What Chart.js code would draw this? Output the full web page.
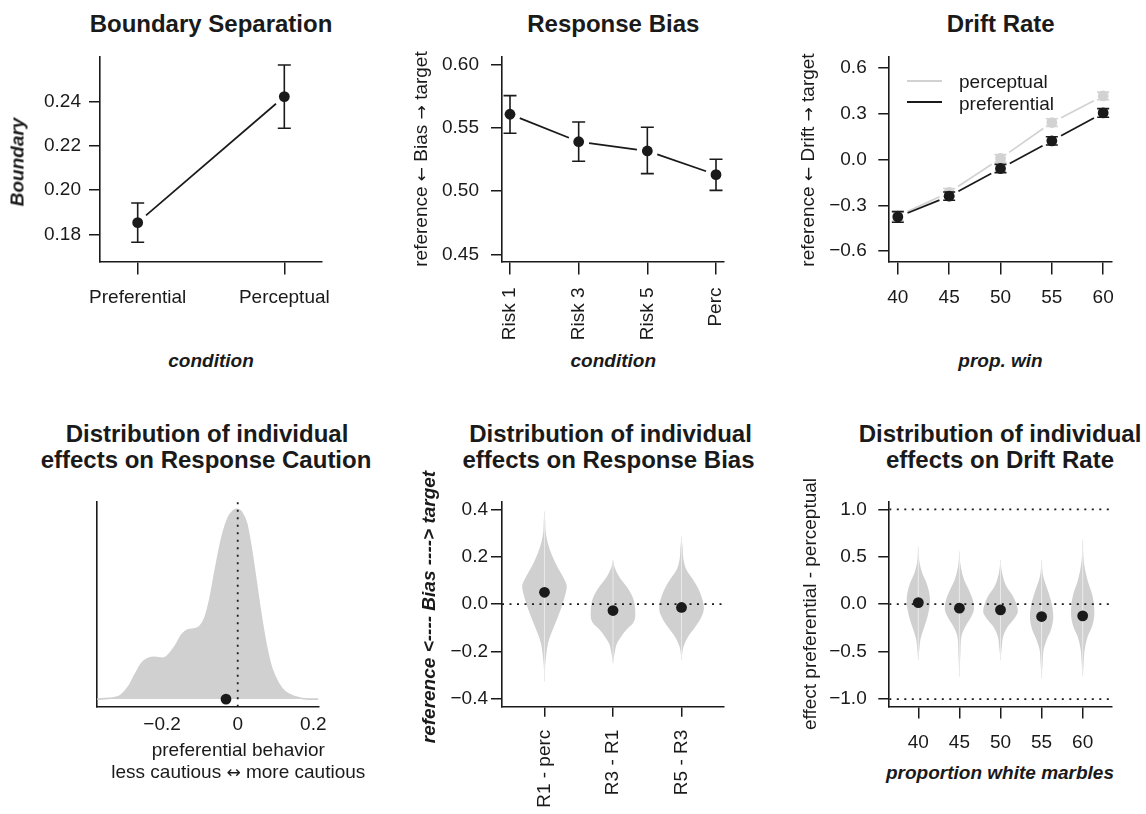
<!DOCTYPE html>
<html>
<head>
<meta charset="utf-8">
<script src="https://cdn.jsdelivr.net/npm/chart.js@4.4.1/dist/chart.umd.min.js"></script>
<style>
  body { margin: 0; background: #fff; }
  #page { position: relative; width: 1146px; height: 814px; overflow: hidden; background: #fff; }
  canvas { position: absolute; }
  .txt {
    position: absolute; transform: translate(-50%, -50%); white-space: nowrap; line-height: 1;
    font-family: 'Liberation Sans', Arial, Helvetica, sans-serif; font-size: 19px; color: #1a1a1a; z-index: 2;
  }
  .title { font-weight: bold; font-size: 24px; }
  .axt { font-weight: bold; font-style: italic; }
  .rot { transform: translate(-50%, -50%) rotate(-90deg); }
  .arw { font-family: 'DejaVu Sans', sans-serif; font-size: 17px; }
  .key { position: absolute; height: 2px; z-index: 2; }
</style>
</head>
<body>
<div id="page"></div>
<script>
// DATOS

// Boundary separation
const boundaryConditions = ['Preferential', 'Perceptual'];
const boundaryMean = [0.1853, 0.2423];
const boundaryLow = [0.1764, 0.2280];
const boundaryHigh = [0.1942, 0.2566];
const boundaryTicks = [0.18, 0.20, 0.22, 0.24];
const boundaryTickLabels = ['0.18', '0.20', '0.22', '0.24'];

// Response bias
const biasConditions = ['Risk 1', 'Risk 3', 'Risk 5', 'Perc'];
const biasMean = [0.5606, 0.5389, 0.5316, 0.5129];
const biasLow = [0.5456, 0.5235, 0.5137, 0.5005];
const biasHigh = [0.5753, 0.5545, 0.5503, 0.5250];
const biasTicks = [0.45, 0.50, 0.55, 0.60];
const biasTickLabels = ['0.45', '0.50', '0.55', '0.60'];

// Drift rate
const propWin = [40, 45, 50, 55, 60];
const driftPerceptual = [-0.370, -0.215, 0.007, 0.242, 0.416];
const driftPerceptualErr = [0.030, 0.025, 0.025, 0.025, 0.025];
const driftPreferential = [-0.376, -0.240, -0.059, 0.122, 0.305];
const driftPreferentialErr = [0.035, 0.027, 0.027, 0.027, 0.028];
const driftTicks = [-0.6, -0.3, 0, 0.3, 0.6];
const driftTickLabels = ['\u22120.6', '\u22120.3', '0.0', '0.3', '0.6'];

// Individual effects on response caution (density)
const cautionX = [-0.372, -0.342, -0.316, -0.289, -0.272, -0.254, -0.236, -0.219, -0.201, -0.188,
  -0.166, -0.148, -0.131, -0.113, -0.100, -0.087, -0.073, -0.060, -0.042, -0.025, -0.012, -0.003,
  0.011, 0.024, 0.037, 0.050, 0.063, 0.077, 0.090, 0.108, 0.125, 0.152, 0.187, 0.213];
const cautionDensity = [0, 0.004, 0.012, 0.065, 0.127, 0.189, 0.215, 0.220, 0.215, 0.224,
  0.277, 0.339, 0.365, 0.370, 0.383, 0.427, 0.533, 0.674, 0.850, 0.956, 0.991, 1.0,
  0.982, 0.921, 0.780, 0.603, 0.427, 0.268, 0.162, 0.083, 0.039, 0.012, 0, 0];
const cautionMean = -0.031;
const cautionTicks = [-0.2, 0, 0.2];
const cautionTickLabels = ['\u22120.2', '0', '0.2'];

// Individual effects on response bias (violins)
const biasContrasts = ['R1 - perc', 'R3 - R1', 'R5 - R3'];
const biasEffectMean = [0.050, -0.027, -0.014];
const biasViolinY = [
  [0.391, 0.356, 0.300, 0.257, 0.215, 0.159, 0.117, 0.075, 0.032, -0.024, -0.066, -0.122, -0.165, -0.221, -0.263, -0.326],
  [0.187, 0.159, 0.117, 0.075, 0.032, 0.004, -0.045, -0.080, -0.108, -0.136, -0.165, -0.207, -0.249],
  [0.285, 0.243, 0.187, 0.145, 0.103, 0.060, 0.018, -0.017, -0.052, -0.094, -0.136, -0.179, -0.235]
];
const biasViolinDensity = [
  [0, 0.03, 0.06, 0.15, 0.30, 0.57, 0.82, 1.0, 0.91, 0.72, 0.55, 0.31, 0.16, 0.07, 0.03, 0],
  [0, 0.06, 0.27, 0.60, 0.87, 0.96, 1.0, 0.90, 0.60, 0.37, 0.18, 0.07, 0],
  [0, 0.045, 0.09, 0.22, 0.52, 0.78, 0.94, 1.0, 0.90, 0.63, 0.30, 0.09, 0]
];
const biasEffectTicks = [-0.4, -0.2, 0, 0.2, 0.4];
const biasEffectTickLabels = ['\u22120.4', '\u22120.2', '0.0', '0.2', '0.4'];

// Individual effects on drift rate (violins)
const marbles = [40, 45, 50, 55, 60];
const driftEffectMean = [0.017, -0.042, -0.060, -0.130, -0.123];
const driftViolinY = [
  [0.608, 0.432, 0.327, 0.220, 0.116, 0.028, -0.060, -0.165, -0.270, -0.376, -0.480, -0.587],
  [0.556, 0.397, 0.257, 0.151, 0.046, -0.042, -0.130, -0.236, -0.340, -0.517, -0.763],
  [0.468, 0.327, 0.186, 0.081, -0.025, -0.077, -0.148, -0.236, -0.341, -0.447, -0.587],
  [0.468, 0.292, 0.151, 0.011, -0.130, -0.270, -0.376, -0.480, -0.620, -0.780],
  [0.679, 0.432, 0.257, 0.081, -0.095, -0.236, -0.341, -0.480, -0.620, -0.760]
];
const driftViolinDensity = [
  [0, 0.077, 0.23, 0.48, 0.635, 0.673, 0.615, 0.48, 0.29, 0.115, 0.058, 0],
  [0, 0.077, 0.27, 0.54, 0.77, 0.846, 0.69, 0.346, 0.115, 0.058, 0],
  [0, 0.096, 0.346, 0.73, 0.96, 1.0, 0.81, 0.42, 0.154, 0.077, 0],
  [0, 0.096, 0.346, 0.577, 0.673, 0.54, 0.29, 0.115, 0.058, 0],
  [0, 0.077, 0.27, 0.577, 0.673, 0.54, 0.29, 0.115, 0.058, 0]
];
const driftEffectTicks = [-1, -0.5, 0, 0.5, 1];
const driftEffectTickLabels = ['\u22121.0', '\u22120.5', '0.0', '0.5', '1.0'];
const driftRefLines = [1, 0, -1];

// ESTILO
const INK = '#1a1a1a';
const GREY = '#d2d2d2';
const VIOLIN = '#cfd0cf';
const DOT = 5.4;
Chart.defaults.font.family = "'Liberation Sans', Arial, Helvetica, sans-serif";
Chart.defaults.font.size = 19;
Chart.defaults.color = INK;
Chart.defaults.animation = false;
Chart.defaults.events = [];
Chart.defaults.plugins.legend.display = false;
Chart.defaults.plugins.tooltip.enabled = false;

const page = document.getElementById('page');

// barras de error y lineas tipo "b" de R (con hueco alrededor de cada punto)
const rPlot = {
  id: 'rPlot',
  beforeDatasetDraw(chart, args) {
    const ds = chart.data.datasets[args.index];
    if (!ds.gapLine && !ds.errLow) return;
    const ctx = chart.ctx;
    const pts = args.meta.data;
    const yScale = chart.scales.y;
    ctx.save();
    ctx.strokeStyle = ds.borderColor;
    ctx.lineCap = 'butt';
    if (ds.gapLine) {
      ctx.lineWidth = 1.7;
      for (let i = 0; i < pts.length - 1; i++) {
        const a = pts[i], b = pts[i + 1];
        const dx = b.x - a.x, dy = b.y - a.y, len = Math.hypot(dx, dy);
        if (len <= 2 * ds.gapLine) continue;
        const ux = dx / len, uy = dy / len;
        ctx.beginPath();
        ctx.moveTo(a.x + ux * ds.gapLine, a.y + uy * ds.gapLine);
        ctx.lineTo(b.x - ux * ds.gapLine, b.y - uy * ds.gapLine);
        ctx.stroke();
      }
    }
    if (ds.errLow) {
      ctx.lineWidth = 1.6;
      pts.forEach(function(p, i) {
        const lo = yScale.getPixelForValue(ds.errLow[i]);
        const hi = yScale.getPixelForValue(ds.errHigh[i]);
        const w = ds.capHalf;
        ctx.beginPath();
        ctx.moveTo(p.x, lo); ctx.lineTo(p.x, hi);
        ctx.moveTo(p.x - w, lo); ctx.lineTo(p.x + w, lo);
        ctx.moveTo(p.x - w, hi); ctx.lineTo(p.x + w, hi);
        ctx.stroke();
      });
    }
    ctx.restore();
  }
};

function eje(o) {
  const tickLen = o.tickLength || 0;
  return {
    type: 'linear',
    min: o.min,
    max: o.max,
    afterBuildTicks: function(s) { s.ticks = o.ticks.map(v => ({value: v})); },
    ticks: {
      display: !!o.labels,
      callback: function(v, i) { return o.labels ? o.labels[i] : ''; },
      padding: o.padding || 0,
      autoSkip: false,
      maxRotation: o.rotate || 0,
      minRotation: o.rotate || 0,
      color: INK,
      font: {size: 19}
    },
    grid: {display: tickLen > 0, drawOnChartArea: false, drawTicks: tickLen > 0, tickLength: tickLen, color: INK, lineWidth: 1.5},
    border: {display: true, color: INK, width: 1.6}
  };
}

function panel(area, yW, xH, config) {
  const left = Math.floor(area.L - yW), top = Math.floor(area.T - 12);
  const right = Math.ceil(area.R + 26), bottom = Math.min(814, Math.ceil(area.B + xH));
  const c = document.createElement('canvas');
  c.width = right - left; c.height = bottom - top;
  c.style.left = left + 'px'; c.style.top = top + 'px';
  c.style.width = (right - left) + 'px'; c.style.height = (bottom - top) + 'px';
  page.appendChild(c);
  const opts = config.options;
  opts.responsive = false;
  opts.devicePixelRatio = 1;
  opts.layout = {padding: {left: 0, top: area.T - top, right: right - area.R, bottom: 0}};
  opts.scales.x.afterFit = function(s) {
    s.height = bottom - area.B;
    s.paddingLeft = s.paddingRight = s.paddingTop = s.paddingBottom = 0;
  };
  opts.scales.y.afterFit = function(s) {
    s.width = area.L - left;
    s.paddingLeft = s.paddingRight = s.paddingTop = s.paddingBottom = 0;
  };
  return new Chart(c, config);
}

// texto real; las flechas van en DejaVu, que las dibuja largas como en R
function texto(str, x, y, cls) {
  const d = document.createElement('div');
  d.className = 'txt ' + (cls || '');
  str.split(/([\u2190-\u2194])/).forEach(function(parte) {
    if (!parte) return;
    if (/[\u2190-\u2194]/.test(parte)) {
      const s = document.createElement('span');
      s.className = 'arw';
      s.textContent = parte;
      d.appendChild(s);
    } else {
      d.appendChild(document.createTextNode(parte));
    }
  });
  d.style.left = x + 'px';
  d.style.top = y + 'px';
  page.appendChild(d);
}

function puntos(xs, ys, color, extra) {
  return Object.assign({
    data: ys.map((v, i) => ({x: xs[i], y: v})),
    showLine: false, fill: false,
    pointRadius: DOT, pointBackgroundColor: color, pointBorderWidth: 0,
    borderColor: color, backgroundColor: color
  }, extra || {});
}

function punteada(points) {
  return {
    data: points, fill: false, borderColor: INK, borderWidth: 1.8,
    borderDash: [2, 5.5], borderCapStyle: 'butt', pointRadius: 0, order: 2
  };
}

function violines(centers, ys, dens, halfWidth) {
  const sets = [];
  centers.forEach(function(c, i) {
    const yv = ys[i].slice().reverse();
    const dv = dens[i].slice().reverse();
    [-1, 1].forEach(function(side) {
      sets.push({
        data: yv.map((y, j) => ({x: c + side * dv[j] * halfWidth, y: y})),
        fill: {value: c}, backgroundColor: VIOLIN, borderColor: 'rgba(0,0,0,0)', borderWidth: 0,
        pointRadius: 0, cubicInterpolationMode: 'monotone', order: 4
      });
    });
    sets.push({
      data: [{x: c, y: yv[0]}, {x: c, y: yv[yv.length - 1]}],
      fill: false, borderColor: '#e9e9e9', borderWidth: 1, pointRadius: 0, order: 3
    });
  });
  return sets;
}

const idx = arr => arr.map((_, i) => i + 1);

// 1. Boundary Separation
panel({L: 100, T: 57, R: 322, B: 262}, 75, 60, {
  type: 'scatter',
  data: {datasets: [puntos(idx(boundaryConditions), boundaryMean, INK,
    {errLow: boundaryLow, errHigh: boundaryHigh, capHalf: 6.5, gapLine: 11})]},
  options: {scales: {
    x: eje({min: 0.743, max: 2.257, ticks: idx(boundaryConditions), labels: boundaryConditions, tickLength: 12.5, padding: 12}),
    y: eje({min: 0.1675, max: 0.2602, ticks: boundaryTicks, labels: boundaryTickLabels, tickLength: 11, padding: 8})
  }},
  plugins: [rPlot]
});

// 2. Response Bias
panel({L: 502, T: 57, R: 724, B: 262}, 75, 85, {
  type: 'scatter',
  data: {datasets: [puntos(idx(biasConditions), biasMean, INK,
    {errLow: biasLow, errHigh: biasHigh, capHalf: 6.5, gapLine: 10.5})]},
  options: {scales: {
    x: eje({min: 0.8835, max: 4.1165, ticks: idx(biasConditions), labels: biasConditions, tickLength: 12.5, padding: 13, rotate: 90}),
    y: eje({min: 0.4439, max: 0.6058, ticks: biasTicks, labels: biasTickLabels, tickLength: 11, padding: 12})
  }},
  plugins: [rPlot]
});

// 3. Drift Rate
panel({L: 889.3, T: 57, R: 1111.7, B: 262}, 75, 60, {
  type: 'scatter',
  data: {datasets: [
    puntos(propWin, driftPreferential, INK, {
      errLow: driftPreferential.map((v, i) => v - driftPreferentialErr[i]),
      errHigh: driftPreferential.map((v, i) => v + driftPreferentialErr[i]),
      capHalf: 6, gapLine: 10.5, order: 0}),
    puntos(propWin, driftPerceptual, GREY, {
      errLow: driftPerceptual.map((v, i) => v - driftPerceptualErr[i]),
      errHigh: driftPerceptual.map((v, i) => v + driftPerceptualErr[i]),
      capHalf: 6, gapLine: 10.5, order: 1})
  ]},
  options: {scales: {
    x: eje({min: 39.17, max: 60.83, ticks: propWin, labels: propWin.map(String), tickLength: 12.5, padding: 12}),
    y: eje({min: -0.671, max: 0.671, ticks: driftTicks, labels: driftTickLabels, tickLength: 11, padding: 11.6})
  }},
  plugins: [rPlot]
});

// 4. Distribution of individual effects on Response Caution
const cautionXMin = -0.373, cautionXMax = 0.215, cautionYMin = -0.04, cautionYMax = 1.04;
panel({L: 96.7, T: 501.7, R: 319, B: 706.7}, 20, 35, {
  type: 'line',
  data: {datasets: [
    puntos([cautionMean], [0], INK, {order: 0}),
    punteada([{x: 0, y: cautionYMin}, {x: 0, y: cautionYMax}]),
    {
      data: cautionX.map((x, i) => ({x: x, y: cautionDensity[i]})),
      fill: 'origin', backgroundColor: VIOLIN, borderColor: VIOLIN, borderWidth: 1.6,
      pointRadius: 0, cubicInterpolationMode: 'monotone', order: 4
    }
  ]},
  options: {scales: {
    x: eje({min: cautionXMin, max: cautionXMax, ticks: cautionTicks, labels: cautionTickLabels, tickLength: 0, padding: 7}),
    y: eje({min: cautionYMin, max: cautionYMax, ticks: [], labels: null, tickLength: 0})
  }}
});

// 5. Distribution of individual effects on Response Bias
const biasXMin = 0.38, biasXMax = 3.62;
panel({L: 502, T: 501.7, R: 724, B: 706.7}, 75, 108, {
  type: 'line',
  data: {datasets: [
    puntos(idx(biasContrasts), biasEffectMean, INK, {order: 0}),
    punteada([{x: biasXMin, y: 0}, {x: biasXMax, y: 0}])
  ].concat(violines(idx(biasContrasts), biasViolinY, biasViolinDensity, 0.326))},
  options: {
    indexAxis: 'y',
    scales: {
      x: eje({min: biasXMin, max: biasXMax, ticks: idx(biasContrasts), labels: biasContrasts, tickLength: 10, padding: 13, rotate: 90}),
      y: eje({min: -0.4325, max: 0.432, ticks: biasEffectTicks, labels: biasEffectTickLabels, tickLength: 11, padding: 3})
    }
  }
});

// 6. Distribution of individual effects on Drift Rate
const driftXMin = 36.47, driftXMax = 63.53;
panel({L: 889.3, T: 501.7, R: 1111.7, B: 706.7}, 75, 50, {
  type: 'line',
  data: {datasets: [puntos(marbles, driftEffectMean, INK, {order: 0})]
    .concat(driftRefLines.map(v => punteada([{x: driftXMin, y: v}, {x: driftXMax, y: v}])))
    .concat(violines(marbles, driftViolinY, driftViolinDensity, 2.11))},
  options: {
    indexAxis: 'y',
    scales: {
      x: eje({min: driftXMin, max: driftXMax, ticks: marbles, labels: marbles.map(String), tickLength: 11.7, padding: 12.5}),
      y: eje({min: -1.08, max: 1.08, ticks: driftEffectTicks, labels: driftEffectTickLabels, tickLength: 11, padding: 11.6})
    }
  }
});

// TEXTOS
texto('Boundary Separation', 211, 23.5, 'title');
texto('Response Bias', 613.3, 23.5, 'title');
texto('Drift Rate', 1000.7, 23.5, 'title');
texto('Distribution of individual', 207, 433.5, 'title');
texto('effects on Response Caution', 206, 459.5, 'title');
texto('Distribution of individual', 610.5, 433.5, 'title');
texto('effects on Response Bias', 608.5, 459.5, 'title');
texto('Distribution of individual', 1000, 433.5, 'title');
texto('effects on Drift Rate', 1000, 459.5, 'title');

texto('condition', 211, 360, 'axt');
texto('condition', 613.3, 360, 'axt');
texto('prop. win', 1000.5, 360, 'axt');
texto('proportion white marbles', 1000, 771.7, 'axt');
texto('Boundary', 17, 161.7, 'axt rot');
texto('reference <---- Bias ----> target', 428, 607, 'axt rot');

texto('reference \u2190 Bias \u2192 target', 420, 158.5, 'rot');
texto('reference \u2190 Drift \u2192 target', 807, 159.7, 'rot');
texto('effect preferential - perceptual', 808.5, 604, 'rot');
texto('preferential behavior', 238.3, 749.3);
texto('less cautious \u2194 more cautious', 238.3, 771);

// leyenda del panel Drift Rate
function clave(x1, x2, y, color) {
  const d = document.createElement('div');
  d.className = 'key';
  d.style.left = x1 + 'px'; d.style.top = (y - 1) + 'px';
  d.style.width = (x2 - x1) + 'px'; d.style.background = color;
  page.appendChild(d);
}
clave(906.7, 941.7, 80.7, GREY);
clave(906.7, 941.7, 102.3, INK);
const leyenda = [['perceptual', 80.7], ['preferential', 103]];
leyenda.forEach(function(l) {
  const d = document.createElement('div');
  d.className = 'txt';
  d.textContent = l[0];
  d.style.left = '959px'; d.style.top = l[1] + 'px';
  d.style.transform = 'translate(0, -50%)';
  page.appendChild(d);
});
</script>
</body>
</html>
